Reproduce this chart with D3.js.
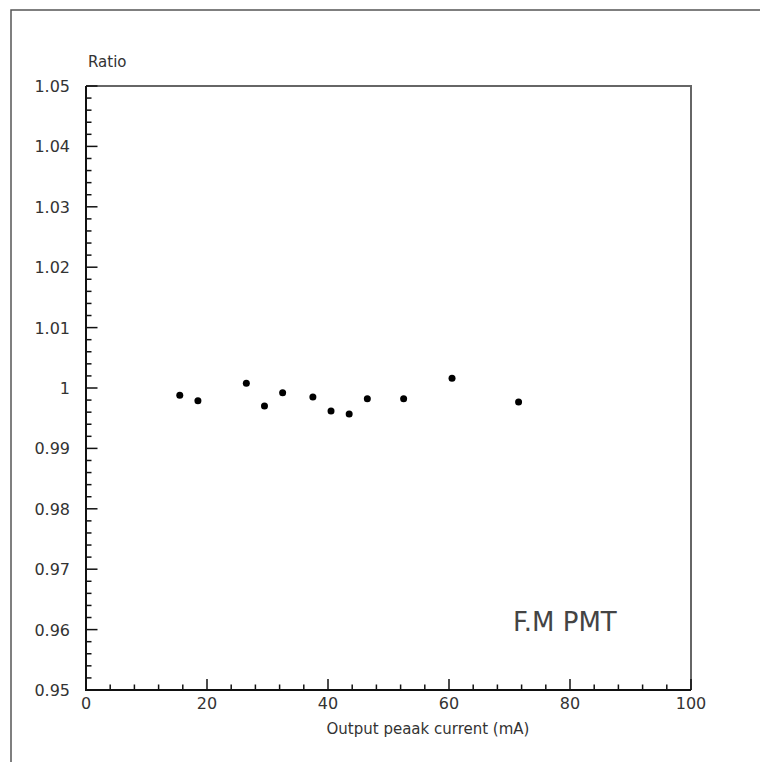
<!DOCTYPE html>
<html>
<head>
<meta charset="utf-8">
<script src="https://cdn.jsdelivr.net/npm/d3@7"></script>
<style>
  body { margin: 0; background: #fff; }
  svg text { font-family: "DejaVu Sans", sans-serif; fill: #333; }
</style>
</head>
<body>
<div id="chart"></div>
<script>
// peak current (mA) and gain ratio
var current = [15.5, 18.5, 26.5, 29.5, 32.5, 37.5, 40.5, 43.5, 46.5, 52.5, 60.5, 71.5];
var ratio   = [0.9988, 0.9979, 1.0008, 0.9970, 0.9992, 0.9985, 0.9962, 0.9957, 0.9982, 0.9982, 1.0016, 0.9977];

var xTicks = [0, 20, 40, 60, 80, 100];
var yTicks = [0.95, 0.96, 0.97, 0.98, 0.99, 1, 1.01, 1.02, 1.03, 1.04, 1.05];
var yLabels = ["0.95", "0.96", "0.97", "0.98", "0.99", "1", "1.01", "1.02", "1.03", "1.04", "1.05"];

var width = 760, height = 762;
var margin = {top: 86, right: 69, bottom: 72, left: 86};

var svg = d3.select("#chart")
            .append("svg")
            .attr("width", width)
            .attr("height", height);

var x = d3.scaleLinear().domain([0, 100]).range([margin.left, width - margin.right]);
var y = d3.scaleLinear().domain([0.95, 1.05]).range([height - margin.bottom, margin.top]);

// outer page frame (only top and left edges show)
svg.append("path")
   .attr("d", "M11," + height + "V10H" + width)
   .attr("fill", "none")
   .attr("stroke", "#555")
   .attr("stroke-width", 1.5);

// top and right frame of the plot box, grey
svg.append("path")
   .attr("d", "M" + x(0) + "," + y(1.05) + "H" + x(100) + "V" + y(0.95))
   .attr("fill", "none")
   .attr("stroke", "#666")
   .attr("stroke-width", 2);

// minor ticks
var xMinor = d3.range(0, 26).map(function(i) { return i * 4; });
var yMinor = d3.range(0, 51).map(function(i) { return 0.95 + i * 0.002; });

svg.append("g").selectAll("line")
   .data(xMinor)
   .enter().append("line")
   .attr("x1", function(d) { return x(d); })
   .attr("x2", function(d) { return x(d); })
   .attr("y1", y(0.95))
   .attr("y2", function(d, i) { return y(0.95) - (i % 5 === 0 ? 11 : 5.5); })
   .attr("stroke", "#111")
   .attr("stroke-width", 1.5);

svg.append("g").selectAll("line")
   .data(yMinor)
   .enter().append("line")
   .attr("y1", function(d) { return y(d); })
   .attr("y2", function(d) { return y(d); })
   .attr("x1", x(0))
   .attr("x2", function(d, i) { return x(0) + (i % 5 === 0 ? 11.5 : 5.5); })
   .attr("stroke", "#111")
   .attr("stroke-width", 1.5);

// main axes
svg.append("path")
   .attr("d", "M" + x(0) + "," + y(1.05) + "V" + y(0.95) + "H" + x(100))
   .attr("fill", "none")
   .attr("stroke", "#111")
   .attr("stroke-width", 2);

// tick labels
svg.append("g").selectAll("text")
   .data(yTicks)
   .enter().append("text")
   .attr("x", 70)
   .attr("y", function(d) { return y(d) + 6; })
   .attr("text-anchor", "end")
   .style("font-size", "16px")
   .text(function(d, i) { return yLabels[i]; });

svg.append("g").selectAll("text")
   .data(xTicks)
   .enter().append("text")
   .attr("x", function(d) { return x(d); })
   .attr("y", 709)
   .attr("text-anchor", "middle")
   .style("font-size", "16px")
   .text(function(d) { return d; });

// axis titles
svg.append("text")
   .attr("x", 88)
   .attr("y", 67)
   .style("font-size", "15px")
   .text("Ratio");

svg.append("text")
   .attr("x", 428)
   .attr("y", 734)
   .attr("text-anchor", "middle")
   .style("font-size", "15px")
   .text("Output peaak current (mA)");

svg.append("text")
   .attr("x", 513)
   .attr("y", 631)
   .style("font-size", "26px")
   .style("fill", "#444")
   .text("F.M PMT");

// data points
svg.append("g").selectAll("circle")
   .data(current)
   .enter().append("circle")
   .attr("cx", function(d) { return x(d); })
   .attr("cy", function(d, i) { return y(ratio[i]); })
   .attr("r", 3.5)
   .attr("fill", "#000");
</script>
</body>
</html>
